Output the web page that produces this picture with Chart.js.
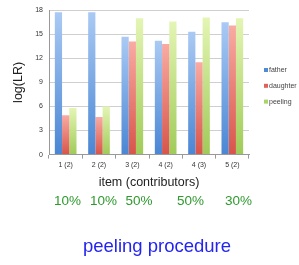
<!DOCTYPE html>
<html>
<head>
<meta charset="utf-8">
<script src="https://cdn.jsdelivr.net/npm/chart.js@4"></script>
<style>
  html, body { margin: 0; padding: 0; background: #fff; }
  #wrap { position: relative; width: 299px; height: 265px; font-family: 'Liberation Sans', Arial, sans-serif; }
  #chart { position: absolute; left: 0; top: 0; }
  .pct { position: absolute; top: 193px; font-size: 13.5px; color: #2e9a2e; transform: translateX(-50%); white-space: nowrap; }
  #caption { position: absolute; top: 235px; left: 157px; transform: translateX(-50%); font-size: 18.5px; color: #2424f0; white-space: nowrap; }
</style>
</head>
<body>
<div id="wrap">
  <canvas id="chart" width="299" height="265"></canvas>
  <div class="pct" style="left:67.5px">10%</div>
  <div class="pct" style="left:103.5px">10%</div>
  <div class="pct" style="left:139px">50%</div>
  <div class="pct" style="left:190.5px">50%</div>
  <div class="pct" style="left:238.5px">30%</div>
  <div id="caption">peeling procedure</div>
</div>
<script>
const items = ['1 (2)', '2 (2)', '3 (2)', '4 (2)', '4 (3)', '5 (2)'];
const father = [17.75, 17.75, 14.7, 14.2, 15.3, 16.5];
const daughter = [4.9, 4.7, 14.1, 13.8, 11.5, 16.1];
const peeling = [5.8, 6.0, 17.0, 16.6, 17.1, 17.0];
const yTicks = [0, 3, 6, 9, 12, 15, 18];

// top / bottom colour of each bar's gradient, plus legend swatch
const palette = {
  father:   { top: '#aacaf4', bottom: '#4a86d4', key: '#4f8ad6' },
  daughter: { top: '#f9aba3', bottom: '#d8544a', key: '#e0605a' },
  peeling:  { top: '#e4f5b4', bottom: '#a0cb58', key: '#a8d468' },
};

Chart.defaults.font.family = "'Liberation Sans', Arial, sans-serif";

function barFill(colors) {
  return (ctx) => {
    const chart = ctx.chart;
    if (ctx.type !== 'data' || !chart.chartArea) return colors.bottom;
    const y = chart.scales.y;
    const top = y.getPixelForValue(ctx.raw);
    const bottom = y.getPixelForValue(0);
    const g = chart.ctx.createLinearGradient(0, top, 0, bottom);
    g.addColorStop(0, colors.top);
    g.addColorStop(1, colors.bottom);
    return g;
  };
}

// small legend to the right of the plot
const sideLegend = {
  id: 'sideLegend',
  afterDraw(chart) {
    const { ctx, chartArea } = chart;
    ctx.save();
    ctx.font = "7px 'Liberation Sans', Arial, sans-serif";
    ctx.textBaseline = 'middle';
    chart.data.datasets.forEach((ds, i) => {
      const x = chartArea.right + 15;
      const y = 70 + i * 15.8;
      ctx.fillStyle = palette[ds.label].key;
      ctx.fillRect(x, y - 2, 4, 4);
      ctx.fillStyle = '#444';
      ctx.fillText(ds.label, x + 5, y);
    });
    ctx.restore();
  }
};

new Chart(document.getElementById('chart'), {
  type: 'bar',
  data: {
    labels: items,
    datasets: [
      { label: 'father', data: father, backgroundColor: barFill(palette.father) },
      { label: 'daughter', data: daughter, backgroundColor: barFill(palette.daughter) },
      { label: 'peeling', data: peeling, backgroundColor: barFill(palette.peeling) },
    ]
  },
  options: {
    responsive: false,
    animation: false,
    layout: { padding: { top: 10, right: 50, bottom: 75, left: 0 } },
    datasets: { bar: { categoryPercentage: 0.65, barPercentage: 1.0, borderWidth: 0 } },
    scales: {
      x: {
        grid: { offset: true, drawOnChartArea: false, tickLength: 4, color: '#999' },
        border: { color: '#999' },
        ticks: { font: { size: 7 }, color: '#333', padding: 2, maxRotation: 0 },
        title: { display: true, text: 'item (contributors)', font: { size: 12.5 }, color: '#222', padding: { top: 4, bottom: 0 } }
      },
      y: {
        min: 0,
        max: 18,
        afterBuildTicks: (axis) => { axis.ticks = yTicks.map(v => ({ value: v })); },
        afterFit: (axis) => { axis.width = 49; },
        grid: { color: '#cfcfcf', drawTicks: false },
        border: { color: '#999' },
        ticks: { font: { size: 7 }, color: '#333', padding: 6 },
        title: { display: true, text: 'log(LR)', font: { size: 12.5 }, color: '#222', padding: { top: 11, bottom: 0 } }
      }
    },
    plugins: {
      legend: { display: false },
      tooltip: { enabled: false }
    }
  },
  plugins: [sideLegend]
});
</script>
</body>
</html>
